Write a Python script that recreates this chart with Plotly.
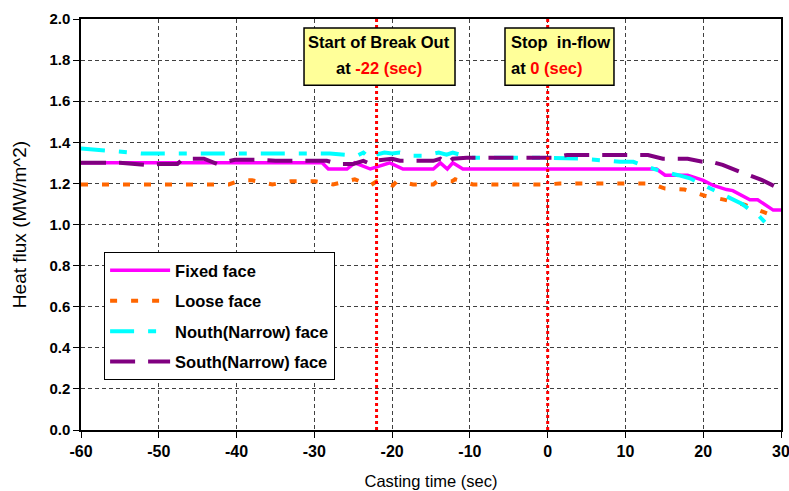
import plotly.graph_objects as go

# Casting time axis (sec) and heat flux (MW/m^2) for each mould face
fixed_t = [-60, -29, -28.2, -25.8, -24.8, -22.8, -20.3, -18.6, -14.7, -13.8, -12.9, -12.2,
           -10.9, 14.0, 15.1, 18.0, 20.0, 21.3, 23.0, 23.8, 26.0, 27.0, 29.0, 30]
fixed_v = [1.30, 1.30, 1.27, 1.27, 1.30, 1.27, 1.30, 1.27, 1.27, 1.30, 1.27, 1.30,
           1.27, 1.27, 1.24, 1.24, 1.215, 1.19, 1.17, 1.165, 1.12, 1.12, 1.07, 1.07]

loose_t = [-60, -41, -39.5, -38, -35.4, -33, -29.9, -27.6, -24.8, -22.8, -22, -19.9,
           -19.4, -17.3, -14.7, -14.2, -12.3, -11.9, -9.6, 0, 1.6, 13.2, 15.1, 17.6,
           20.2, 22.8, 25.4, 28.2, 29.2]
loose_v = [1.195, 1.195, 1.215, 1.215, 1.195, 1.21, 1.21, 1.195, 1.22, 1.19, 1.21, 1.19,
           1.21, 1.195, 1.195, 1.21, 1.21, 1.22, 1.195, 1.195, 1.20, 1.20, 1.175, 1.17,
           1.14, 1.12, 1.095, 1.055, 1.04]

north_t = [-60, -57, -52, -28, -25.6, -24.5, -23.7, -22.8, -22, -21, -20, -19, -17.5,
           -16, -14, -13, -12.2, -11.3, -10, 0, 4.5, 9.3, 11, 12.1, 13.2, 14.5, 16.8,
           18.3, 19.6, 21.2, 22.1, 23.8, 25, 26.4, 27.2, 28.2, 28.9]
north_v = [1.37, 1.36, 1.345, 1.345, 1.335, 1.335, 1.35, 1.32, 1.34, 1.35, 1.345, 1.35,
           1.335, 1.335, 1.35, 1.34, 1.35, 1.34, 1.325, 1.325, 1.32, 1.305, 1.305, 1.29,
           1.275, 1.26, 1.24, 1.225, 1.20, 1.17, 1.15, 1.12, 1.10, 1.06, 1.04, 1.00, 1.00]

south_t = [-60, -57, -55, -51.5, -49.8, -47.6, -46.9, -44.2, -42.5, -40.2, -37, -35,
           -31.8, -28.4, -27, -25, -23.7, -22.8, -22.2, -20, -19, -17.3, -14.7, -13.8,
           -12.9, -12.2, -10.4, 0.7, 2.5, 12.9, 14.8, 18, 19.9, 21.1, 22.5, 24.7, 27.5,
           29.5, 30]
south_v = [1.30, 1.30, 1.30, 1.29, 1.295, 1.295, 1.32, 1.32, 1.295, 1.315, 1.315, 1.31,
           1.31, 1.31, 1.295, 1.295, 1.31, 1.295, 1.31, 1.32, 1.31, 1.31, 1.31, 1.32,
           1.295, 1.32, 1.325, 1.325, 1.338, 1.338, 1.32, 1.32, 1.305, 1.305, 1.29,
           1.257, 1.217, 1.18, 1.17]

x_tick_vals = [-60, -50, -40, -30, -20, -10, 0, 10, 20, 30]
x_tick_text = ["-60", "-50", "-40", "-30", "-20", "-10", "0", "10", "20", "30"]

series = [
    ("Fixed face", fixed_t, fixed_v, "#FF00FF", "solid", 3.5),
    ("Loose face", loose_t, loose_v, "#FF6600", "7px,14px", 4),
    ("Nouth(Narrow) face", north_t, north_v, "#00FFFF", "24px,14px,8px,14px", 4),
    ("South(Narrow) face", south_t, south_v, "#800080", "25px,13px", 4),
]

event_times = [-22, 0]

SANS = "Liberation Sans, Arial, sans-serif"

fig = go.Figure()
for name, t, v, color, dash, width in series:
    fig.add_trace(go.Scatter(
        x=t, y=v, mode="lines", name=name, legendgroup=name,
        line=dict(color=color, dash=dash, width=width),
    ))

# red dotted event markers
for t0 in event_times:
    fig.add_shape(type="line", xref="x", yref="paper", x0=t0, x1=t0, y0=0, y1=1,
                  line=dict(color="#FF0000", width=3, dash="3px,3px"), layer="above")

# yellow callout boxes above the event markers
for x0, x1 in [(0.3186, 0.5343), (0.6057, 0.7614)]:
    fig.add_shape(type="rect", xref="paper", yref="paper", x0=x0, x1=x1,
                  y0=0.839, y1=0.978, fillcolor="#FFFF99",
                  line=dict(color="black", width=1.5), layer="above")

box_font = dict(family=SANS, size=16.5, color="black", weight="bold")
callouts = [
    (0.4264, 0.944, "center", "Start of Break Out"),
    (0.4264, 0.881, "center", "at <span style='color:#FF0000'>-22 (sec)</span>"),
    (0.6114, 0.944, "left", "Stop  in-flow"),
    (0.6114, 0.881, "left", "at <span style='color:#FF0000'>0 (sec)</span>"),
]
for cx, cy, anchor, txt in callouts:
    fig.add_annotation(x=cx, y=cy, xref="paper", yref="paper", xanchor=anchor,
                       yanchor="middle", text=txt, showarrow=False, font=box_font)

grid = dict(showgrid=True, gridcolor="#404040", gridwidth=1, griddash="4px,3px",
            showline=True, linecolor="black", linewidth=1.5, mirror=True,
            ticks="outside", ticklen=6, tickcolor="black", zeroline=False,
            automargin=False)

fig.update_xaxes(
    range=[-60, 30], tickmode="array", tickvals=x_tick_vals, ticktext=x_tick_text,
    tickfont=dict(family=SANS, size=16, color="black", weight="bold"),
    ticklabeloverflow="allow",
    title=dict(text="Casting time (sec)", font=dict(family=SANS, size=16.5, color="black"),
               standoff=16),
    **grid,
)
fig.update_yaxes(
    range=[0, 2.0], dtick=0.2, tickformat=".1f",
    tickfont=dict(family=SANS, size=15, color="black", weight="bold"),
    title=dict(text="Heat flux (MW/m^2)", font=dict(family=SANS, size=19, color="black"),
               standoff=18),
    **grid,
)

fig.update_layout(
    width=789, height=491,
    margin=dict(l=81, r=8, t=19, b=61),
    plot_bgcolor="white", paper_bgcolor="white",
    showlegend=True,
    legend=dict(
        x=0.033, y=0.433, xanchor="left", yanchor="top",
        bgcolor="white", bordercolor="black", borderwidth=1,
        font=dict(family=SANS, size=16.5, color="black", weight="bold"),
        itemwidth=60, tracegroupgap=6,
    ),
)

fig.write_html("out.html")
